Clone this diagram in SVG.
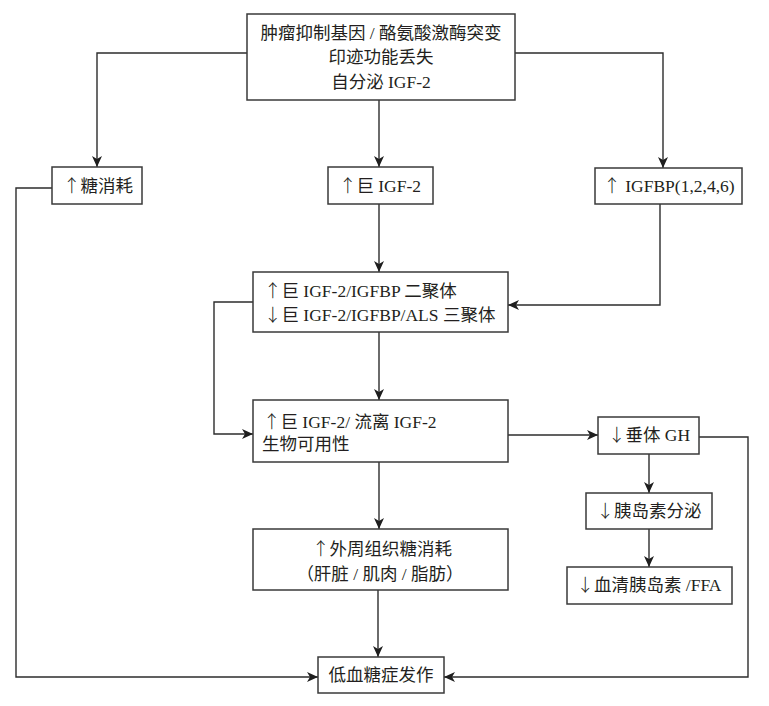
<svg xmlns="http://www.w3.org/2000/svg" width="769" height="706" viewBox="0 0 769 706">
<style>
  .box { fill: #ffffff; stroke: #3a3a3a; stroke-width: 1.5; }
  .t { font-family: "Liberation Serif", "Noto Sans CJK SC", serif; font-size: 17.5px; fill: #231f20; }
  .a { font-family: "Noto Sans CJK SC", sans-serif; font-weight: 300; fill: #231f20; }
  .c { text-anchor: middle; }
  .ln { fill: none; stroke: #2d2d2d; stroke-width: 1.4; marker-end: url(#arr); }
</style>
<defs>
  <marker id="arr" markerUnits="userSpaceOnUse" markerWidth="12" markerHeight="10" refX="11" refY="5" orient="auto">
    <path d="M0,0 L11,5 L0,10 L3,5 z" fill="#1e1e1e"/>
  </marker>
</defs>
<rect width="769" height="706" fill="#ffffff"/>

<g id="connectors">
  <polyline class="ln" points="247,53 97,53 97,167"/>
  <polyline class="ln" points="515,53 663,53 663,168"/>
  <line class="ln" x1="379" y1="100" x2="379" y2="167"/>
  <line class="ln" x1="379" y1="204" x2="379" y2="272"/>
  <polyline class="ln" points="660,204 660,305 508,305"/>
  <polyline class="ln" points="253,302 214,302 214,434 253,434"/>
  <line class="ln" x1="379" y1="332" x2="379" y2="400"/>
  <line class="ln" x1="508" y1="435" x2="598" y2="435"/>
  <line class="ln" x1="379" y1="462" x2="379" y2="529"/>
  <line class="ln" x1="378" y1="590" x2="378" y2="657"/>
  <polyline class="ln" points="52,188 16,188 16,677 318,677"/>
  <polyline class="ln" points="699,437 748,437 748,677 444,677"/>
  <line class="ln" x1="649" y1="454" x2="649" y2="493"/>
  <line class="ln" x1="649" y1="529" x2="649" y2="567"/>
</g>

<g id="n-top">
  <rect class="box" x="247" y="14" width="268" height="86"/>
  <text class="t c" x="381" y="39">肿瘤抑制基因 / 酪氨酸激酶突变</text>
  <text class="t c" x="381" y="63">印迹功能丢失</text>
  <text class="t c" x="381" y="88">自分泌 IGF-2</text>
</g>

<g id="n-glucose">
  <rect class="box" x="52" y="167" width="90" height="37"/>
  <text class="t c" x="98" y="192"><tspan class="a">↑</tspan>糖消耗</text>
</g>

<g id="n-bigigf">
  <rect class="box" x="328" y="167" width="105" height="37"/>
  <text class="t c" x="380" y="192"><tspan class="a">↑</tspan>巨 IGF-2</text>
</g>

<g id="n-igfbp">
  <rect class="box" x="595" y="168" width="147" height="36"/>
  <text class="t c" x="669" y="192"><tspan class="a">↑</tspan> IGFBP(1,2,4,6)</text>
</g>

<g id="n-complex">
  <rect class="box" x="253" y="272" width="255" height="60"/>
  <text class="t" x="264" y="297"><tspan class="a">↑</tspan>巨 IGF-2/IGFBP 二聚体</text>
  <text class="t" x="264" y="321"><tspan class="a">↓</tspan>巨 IGF-2/IGFBP/ALS 三聚体</text>
</g>

<g id="n-bioavail">
  <rect class="box" x="253" y="400" width="255" height="62"/>
  <text class="t" x="263" y="428"><tspan class="a">↑</tspan>巨 IGF-2/ 流离 IGF-2</text>
  <text class="t" x="262" y="450">生物可用性</text>
</g>

<g id="n-peripheral">
  <rect class="box" x="253" y="529" width="255" height="61"/>
  <text class="t c" x="382" y="555"><tspan class="a">↑</tspan>外周组织糖消耗</text>
  <text class="t c" x="380" y="580">（肝脏 / 肌肉 / 脂肪）</text>
</g>

<g id="n-gh">
  <rect class="box" x="598" y="417" width="101" height="37"/>
  <text class="t c" x="649" y="441"><tspan class="a">↓</tspan>垂体 GH</text>
</g>

<g id="n-insulin">
  <rect class="box" x="586" y="493" width="126" height="36"/>
  <text class="t c" x="649" y="517"><tspan class="a">↓</tspan>胰岛素分泌</text>
</g>

<g id="n-serum">
  <rect class="box" x="567" y="567" width="165" height="37"/>
  <text class="t c" x="649" y="591"><tspan class="a">↓</tspan>血清胰岛素 /FFA</text>
</g>

<g id="n-hypo">
  <rect class="box" x="318" y="657" width="126" height="36"/>
  <text class="t c" x="381" y="681">低血糖症发作</text>
</g>
</svg>
